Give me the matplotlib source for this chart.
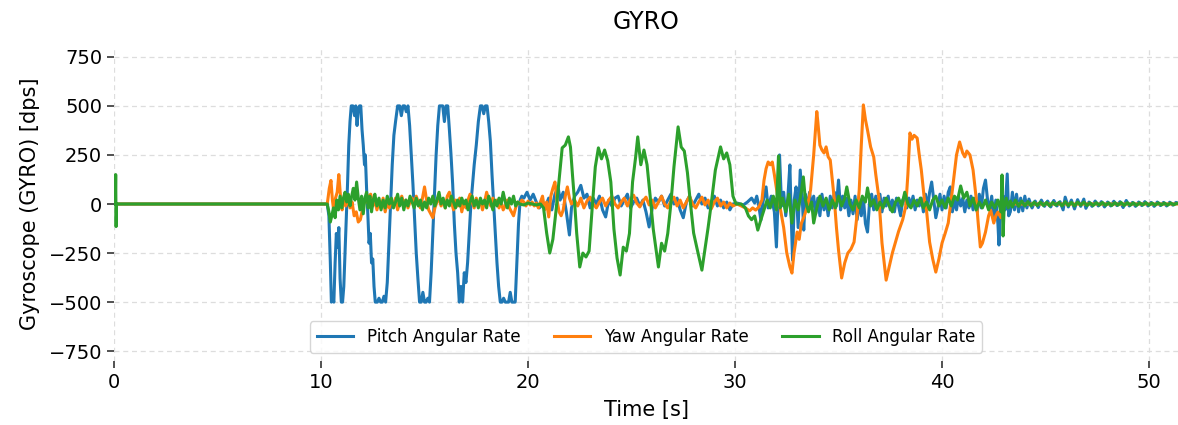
import numpy as np
import matplotlib
matplotlib.use("Agg")
import matplotlib.pyplot as plt

# ---------------- data (time [s], rate [dps]) ----------------
pitch_points = [
    (0.0, 0), (10.30, 0), (10.38, -60), (10.45, -300), (10.50, -500), (10.56, -480), (10.62, -500),
    (10.68, -300), (10.74, -150), (10.80, -220), (10.86, -120), (10.92, -380), (10.98, -500),
    (11.04, -500), (11.10, -420), (11.16, -250), (11.22, -80), (11.28, 100), (11.34, 300),
    (11.40, 420), (11.46, 500), (11.54, 500), (11.62, 450), (11.68, 500), (11.74, 400),
    (11.80, 480), (11.86, 500), (11.92, 500), (11.98, 380), (12.04, 300), (12.10, 200), (12.14, 250),
    (12.20, 80), (12.26, -50), (12.32, -200), (12.38, -150), (12.44, -300), (12.50, -280),
    (12.56, -420), (12.62, -500), (12.72, -500), (12.80, -480), (12.88, -500), (12.96, -500),
    (13.04, -470), (13.12, -500), (13.20, -400), (13.28, -200), (13.36, 0), (13.44, 200),
    (13.52, 350), (13.60, 420), (13.70, 500), (13.80, 500), (13.88, 450), (13.96, 500),
    (14.04, 500), (14.12, 470), (14.20, 500), (14.28, 400), (14.36, 250), (14.44, 100),
    (14.52, -80), (14.60, -250), (14.68, -380), (14.76, -500), (14.84, -500), (14.92, -450),
    (15.00, -500), (15.08, -500), (15.16, -480), (15.24, -500), (15.32, -350), (15.40, -150),
    (15.48, 50), (15.56, 250), (15.64, 400), (15.72, 500), (15.80, 500), (15.88, 500),
    (15.96, 420), (16.04, 500), (16.12, 500), (16.20, 380), (16.28, 250), (16.36, 100),
    (16.44, -100), (16.52, -250), (16.60, -350), (16.68, -500), (16.76, -420), (16.84, -500),
    (16.92, -350), (17.00, -400), (17.08, -300), (17.16, -150), (17.24, 0), (17.32, 100),
    (17.40, 200), (17.50, 300), (17.60, 420), (17.70, 500), (17.78, 500), (17.86, 460),
    (17.94, 500), (18.02, 500), (18.10, 420), (18.18, 320), (18.26, 150), (18.34, 0),
    (18.42, -150), (18.50, -300), (18.58, -420), (18.66, -500), (18.74, -500), (18.82, -480),
    (18.90, -500), (18.98, -500), (19.06, -500), (19.14, -450), (19.22, -500), (19.30, -500),
    (19.38, -500), (19.46, -300), (19.54, -100), (19.62, 20), (19.70, 40),
    (19.80, 30), (19.95, 60), (20.10, 20), (20.25, 50), (20.40, 10), (20.55, -20), (20.70, 10),
    (20.85, -10), (21.00, 30), (21.15, -30), (21.30, 50), (21.45, 87), (21.55, 20), (21.70, 60),
    (21.85, -40), (22.00, -158), (22.10, -20), (22.25, 40), (22.40, 60), (22.55, 95), (22.70, 30),
    (22.85, 50), (23.00, -20), (23.15, 30), (23.30, 0), (23.45, 40), (23.60, -30), (23.75, -66),
    (23.90, 20), (24.05, -10), (24.20, 30), (24.35, 40), (24.50, -10), (24.65, 20), (24.80, 50),
    (24.95, -20), (25.10, 10), (25.25, 30), (25.40, -10), (25.55, 20), (25.70, -40), (25.85, -117),
    (26.00, -20), (26.15, 30), (26.30, 10), (26.45, 40), (26.60, -10), (26.75, 20), (26.90, 50),
    (27.05, 0), (27.20, 30), (27.35, -30), (27.50, -70), (27.65, 10), (27.80, 40), (27.95, -10),
    (28.10, 20), (28.25, 50), (28.40, 0), (28.55, 30), (28.70, -20), (28.85, 10), (29.00, 40),
    (29.15, -10), (29.30, 20), (29.45, -20), (29.60, 10), (29.75, -30), (29.90, 0),
    (30.10, 5), (30.40, -5), (30.60, 10), (30.80, 30), (30.95, 5), (31.05, 40), (31.15, -10),
    (31.25, -82), (31.35, 10), (31.50, 87), (31.60, -20), (31.75, 40), (31.90, -40), (32.00, -219),
    (32.08, 30), (32.15, 250), (32.25, -10), (32.35, 60), (32.45, -60), (32.55, 30), (32.65, 199),
    (32.72, -80), (32.78, -286), (32.86, 20), (32.95, 87), (33.05, -120), (33.15, 173), (33.25, 20),
    (33.32, -133), (33.40, 50), (33.50, -30), (33.60, 60), (33.70, -20), (33.80, 40), (33.90, -50),
    (34.00, 30), (34.10, -60), (34.20, 50), (34.30, -30), (34.40, 20), (34.50, -60), (34.60, 40),
    (34.70, -20), (34.80, 60), (34.90, -10), (35.00, 122), (35.10, -30), (35.20, 40), (35.30, -20),
    (35.40, 30), (35.50, -60), (35.60, 20), (35.70, -50), (35.80, 40), (35.90, -80), (36.00, 10),
    (36.10, -60), (36.20, 30), (36.30, -100), (36.40, -143), (36.50, 10), (36.60, 50), (36.70, -30),
    (36.80, 40), (36.90, -20), (37.00, 50), (37.10, -40), (37.20, 30), (37.30, -10), (37.40, 40),
    (37.50, -30), (37.60, 20), (37.70, -40), (37.80, 30), (37.90, -10), (38.00, -60), (38.10, 20),
    (38.20, 40), (38.30, -20), (38.40, 30), (38.50, -10), (38.60, 40), (38.70, -30), (38.80, 20),
    (38.90, -10), (39.00, 30), (39.10, -40), (39.20, 50), (39.30, -20), (39.40, 60), (39.50, 112),
    (39.60, 20), (39.70, -70), (39.80, -20), (39.90, 50), (40.00, -30), (40.10, 40), (40.20, -20),
    (40.30, 60), (40.40, 87), (40.50, -40), (40.60, 20), (40.70, -30), (40.80, 40), (40.90, -10),
    (41.00, 30), (41.10, -40), (41.20, 20), (41.30, -20), (41.40, 40), (41.50, -30), (41.60, 30),
    (41.70, -40), (41.80, 50), (41.90, -20), (42.00, 80), (42.10, 122), (42.20, 20), (42.30, -30),
    (42.40, 40), (42.50, -70), (42.60, 20), (42.70, -100), (42.75, -209), (42.85, 10), (42.95, 40),
    (43.05, -30), (43.15, 153), (43.22, -60), (43.30, -40), (43.40, 60), (43.50, -30), (43.60, 50),
    (43.70, -40), (43.80, 30), (43.90, -35), (44.00, 40), (44.10, -20), (44.20, 25), (44.35, -20),
    (44.50, 15), (44.65, -18), (44.80, 20), (44.95, -12), (45.10, 15), (45.25, -15), (45.40, 18),
    (45.55, -10), (45.70, 12), (45.85, -30), (45.95, 35), (46.10, -15), (46.25, 20), (46.40, -25),
    (46.55, 22), (46.70, -12), (46.85, 25), (46.95, -22), (47.10, 10), (47.25, -12), (47.40, 15),
    (47.55, -10), (47.70, 12), (47.85, -15), (48.00, 10), (48.15, -10), (48.30, 14), (48.45, -8),
    (48.60, 12), (48.75, -18), (48.90, 18), (49.05, -10), (49.20, 8), (49.35, -12), (49.50, 10),
    (49.65, -8), (49.80, 12), (49.95, -10), (50.10, 8), (50.25, -12), (50.40, 10), (50.55, -8),
    (50.70, 8), (50.85, -10), (51.00, 9), (51.15, -6), (51.30, 8), (51.50, 0),
]

yaw_points = [
    (0.0, 0), (10.30, 0), (10.40, 80), (10.48, 120), (10.55, 20), (10.62, -40), (10.70, 30),
    (10.78, 60), (10.86, 150), (10.94, 40), (11.02, -30), (11.10, 20), (11.20, -10), (11.30, 30),
    (11.40, -20), (11.50, 10), (11.60, -60), (11.70, -40), (11.80, -92), (11.90, -80), (12.00, -30),
    (12.10, 20), (12.20, 10), (12.30, 40), (12.40, 50), (12.50, -10), (12.60, 20), (12.70, -30),
    (12.80, 10), (12.90, -20), (13.00, 30), (13.10, -40), (13.20, 10), (13.30, -20), (13.40, 20),
    (13.50, -10), (13.60, 30), (13.70, -30), (13.80, 10), (13.90, 40), (14.00, 0), (14.10, 20),
    (14.20, -20), (14.30, 10), (14.40, 30), (14.50, 0), (14.60, 40), (14.70, 10), (14.80, -20),
    (14.90, 30), (15.00, 87), (15.10, 20), (15.20, -30), (15.30, -50), (15.40, -70), (15.50, -20),
    (15.60, 10), (15.70, 30), (15.80, -10), (15.90, 20), (16.00, -20), (16.10, 40), (16.20, 60),
    (16.30, 10), (16.40, -30), (16.50, 20), (16.60, -10), (16.70, 30), (16.80, -40), (16.90, 10),
    (17.00, -20), (17.10, 20), (17.20, 50), (17.30, 10), (17.40, -20), (17.50, 30), (17.60, -10),
    (17.70, 20), (17.80, -30), (17.90, 10), (18.00, 60), (18.10, 20), (18.20, -10), (18.30, 30),
    (18.40, 0), (18.50, 20), (18.60, -20), (18.70, 10), (18.80, -30), (18.90, -10), (19.00, 20),
    (19.10, -20), (19.20, -40), (19.30, -60), (19.40, -20), (19.50, 10), (19.60, 0), (19.70, 20),
    (19.80, 10), (19.90, -10), (20.00, 15), (20.10, -5), (20.20, 10), (20.30, -10), (20.40, 5),
    (20.50, -20), (20.60, 10), (20.70, 40), (20.80, -30), (20.90, 10), (21.00, -66), (21.10, 40),
    (21.20, 80), (21.30, 112), (21.40, 20), (21.50, -40), (21.60, -60), (21.70, -30), (21.80, 40),
    (21.90, 87), (22.00, 30), (22.10, 0), (22.25, 20), (22.40, -10), (22.55, 30), (22.70, -20),
    (22.85, 15), (23.00, 35), (23.15, 0), (23.30, -20), (23.45, 10), (23.60, 30), (23.75, -10),
    (23.90, 20), (24.05, 40), (24.20, 0), (24.35, -20), (24.50, 10), (24.65, 30), (24.80, -10),
    (24.95, 25), (25.10, 45), (25.25, 5), (25.40, -15), (25.55, 15), (25.70, 35), (25.85, -5),
    (26.00, 20), (26.15, -20), (26.30, 10), (26.45, 40), (26.60, 0), (26.75, -20), (26.90, 15),
    (27.05, 35), (27.20, -10), (27.35, 20), (27.50, -20), (27.65, 10), (27.80, 40), (27.95, 0),
    (28.10, -20), (28.25, 10), (28.40, 35), (28.55, -5), (28.70, 20), (28.85, -25), (29.00, 10),
    (29.15, 30), (29.30, -10), (29.45, 10), (29.60, -20), (29.75, 5), (29.90, -10), (30.10, 0),
    (30.30, -10), (30.50, -20), (30.70, -35), (30.85, -20), (31.00, -31), (31.15, -15), (31.30, 20),
    (31.40, 120), (31.50, 180), (31.60, 214), (31.70, 200), (31.80, 214), (31.90, 150), (32.00, 80),
    (32.10, 20), (32.20, -31), (32.35, -120), (32.50, -250), (32.65, -320), (32.75, -352),
    (32.85, -250), (33.00, -143), (33.10, -180), (33.20, -100), (33.35, -60), (33.50, -10),
    (33.65, 71), (33.80, 250), (33.90, 400), (33.95, 471), (34.00, 420), (34.10, 300), (34.20, 275),
    (34.30, 260), (34.40, 291), (34.50, 240), (34.60, 224), (34.70, 120), (34.80, 20), (34.90, -120),
    (35.00, -235), (35.15, -377), (35.30, -300), (35.45, -250), (35.60, -230), (35.75, -194),
    (35.90, -50), (36.00, 71), (36.10, 300), (36.20, 505), (36.30, 430), (36.40, 377), (36.55, 291),
    (36.70, 240), (36.80, 150), (36.95, 31), (37.10, -199), (37.30, -388), (37.45, -320),
    (37.60, -250), (37.75, -194), (37.90, -140), (38.10, -80), (38.25, -10), (38.35, 150),
    (38.45, 362), (38.55, 330), (38.65, 350), (38.80, 336), (38.90, 250), (39.00, 173), (39.15, 20),
    (39.25, -31), (39.40, -194), (39.55, -280), (39.70, -347), (39.85, -280), (40.00, -199),
    (40.15, -150), (40.30, -97), (40.50, 71), (40.70, 250), (40.85, 316), (41.00, 260), (41.10, 240),
    (41.20, 270), (41.35, 250), (41.50, 173), (41.65, 30), (41.75, -100), (41.85, -219),
    (41.95, -200), (42.10, -143), (42.25, -60), (42.35, -31), (42.50, -97), (42.60, -60),
    (42.70, -41), (42.85, -70), (42.95, -10), (43.10, 5), (43.50, 0), (51.50, 0),
]

roll_points = [
    (0.0, 0), (0.06, 0), (0.08, 150), (0.10, -115), (0.12, 0), (10.30, 0), (10.38, -40),
    (10.45, -92), (10.52, -60), (10.60, -20), (10.68, -70), (10.76, 20), (10.84, -30), (10.92, 40),
    (11.00, -20), (11.08, 30), (11.16, 60), (11.24, 10), (11.32, 50), (11.40, -10), (11.48, 40),
    (11.56, 80), (11.64, 20), (11.72, 112), (11.80, 30), (11.88, -30), (11.96, 40), (12.04, -50),
    (12.12, 30), (12.20, 60), (12.28, -20), (12.36, 40), (12.44, -40), (12.52, 20), (12.60, 50),
    (12.70, -10), (12.80, 30), (12.90, -30), (13.00, 20), (13.10, -20), (13.20, 40), (13.30, 0),
    (13.40, 30), (13.50, -20), (13.60, 10), (13.70, 50), (13.80, -10), (13.90, 30), (14.00, -30),
    (14.10, 20), (14.20, -10), (14.30, 40), (14.40, 10), (14.50, -20), (14.60, 30), (14.70, -10),
    (14.80, 20), (14.90, -30), (15.00, 10), (15.10, -20), (15.20, 30), (15.30, 0), (15.40, 40),
    (15.50, -10), (15.60, 20), (15.70, 60), (15.80, 0), (15.90, 30), (16.00, -20), (16.10, 20),
    (16.20, -10), (16.30, 40), (16.40, 10), (16.50, -20), (16.60, 20), (16.70, -10), (16.80, 30),
    (16.90, 0), (17.00, 20), (17.10, -30), (17.20, 10), (17.30, 40), (17.40, -10), (17.50, 20),
    (17.60, -20), (17.70, 30), (17.80, 0), (17.90, 20), (18.00, -20), (18.10, 40), (18.20, 10),
    (18.30, -30), (18.40, 20), (18.50, -10), (18.60, 30), (18.70, 0), (18.80, 60), (18.90, 10),
    (19.00, -20), (19.10, 30), (19.20, 0), (19.30, 40), (19.40, -10), (19.50, 10), (19.60, 0),
    (19.80, -5), (20.00, 5), (20.20, 0), (20.40, -5), (20.60, 0),
    (20.75, -20), (20.90, -148), (21.05, -250), (21.20, -180), (21.35, -36), (21.50, 122),
    (21.65, 286), (21.80, 300), (21.95, 342), (22.05, 290), (22.15, 145), (22.25, 10), (22.35, -148),
    (22.50, -321), (22.65, -250), (22.80, -270), (22.95, -240), (23.10, -20), (23.25, 189),
    (23.40, 286), (23.55, 230), (23.70, 275), (23.85, 220), (24.00, 112), (24.15, -128),
    (24.30, -275), (24.45, -362), (24.60, -220), (24.75, -240), (24.90, -150), (25.05, 112),
    (25.20, 240), (25.30, 342), (25.45, 200), (25.60, 275), (25.75, 200), (25.90, 40), (26.05, -128),
    (26.30, -321), (26.45, -200), (26.60, -240), (26.75, -150), (26.90, 0), (27.05, 189),
    (27.25, 393), (27.40, 290), (27.55, 270), (27.70, 160), (27.85, 0), (28.00, -148), (28.15, -220),
    (28.40, -337), (28.55, -230), (28.70, -120), (28.85, 0), (29.05, 173), (29.30, 291),
    (29.45, 230), (29.60, 260), (29.75, 200), (29.90, 40), (30.05, 0), (30.30, 0), (30.50, -20),
    (30.65, -61), (30.80, -80), (30.95, -61), (31.10, -133), (31.25, -80),
    (31.40, -30), (31.55, 20), (31.70, -20), (31.85, 40), (32.00, -30), (32.10, 245), (32.18, -20),
    (32.30, 30), (32.45, -40), (32.60, 50), (32.75, -97), (32.90, 20), (33.05, -30), (33.20, 60),
    (33.30, 138), (33.40, 20), (33.55, -40), (33.70, 10), (33.80, -97), (33.95, -20), (34.10, 40),
    (34.25, -10), (34.40, 30), (34.55, -30), (34.70, 20), (34.85, -20), (35.00, 40), (35.15, -10),
    (35.30, 30), (35.40, 87), (35.55, 0), (35.70, -30), (35.85, 20), (36.00, -20), (36.15, 40),
    (36.30, 10), (36.40, 82), (36.55, -10), (36.70, 20), (36.85, -30), (37.00, 10), (37.15, -20),
    (37.30, 30), (37.45, -10), (37.60, -40), (37.75, 10), (37.90, 30), (38.05, -10), (38.20, 60),
    (38.35, 0), (38.50, -20), (38.65, 20), (38.80, -10), (38.95, 30), (39.10, -20), (39.25, 10),
    (39.40, -30), (39.55, 20), (39.70, 40), (39.85, -10), (40.00, 20), (40.15, -20), (40.30, 30),
    (40.45, -10), (40.60, 40), (40.75, 20), (40.90, 92), (41.05, 30), (41.20, 60), (41.35, -10),
    (41.50, 30), (41.65, -30), (41.80, 10), (41.95, -20), (42.10, 20), (42.25, -30), (42.40, 10),
    (42.55, -20), (42.70, 20), (42.85, -40), (42.90, 148), (42.95, -163), (43.00, -20), (43.10, 30),
    (43.20, -20), (43.30, 15), (43.40, -15), (43.55, 20), (43.70, -12), (43.85, 15), (44.00, -10),
    (44.15, 12), (44.30, -10), (44.45, 10), (44.60, -8), (44.75, 10), (44.90, -8), (45.05, 8),
    (45.20, -10), (45.35, 8), (45.50, -6), (45.65, 8), (45.80, -10), (45.95, 12), (46.10, -8),
    (46.25, 8), (46.40, -10), (46.55, 10), (46.70, -6), (46.85, 10), (47.00, -8), (47.15, 6),
    (47.30, -8), (47.45, 7), (47.60, -6), (47.75, 8), (47.90, -7), (48.05, 6), (48.20, -8),
    (48.35, 7), (48.50, -6), (48.65, 8), (48.80, -8), (48.95, 7), (49.10, -6), (49.25, 6),
    (49.40, -7), (49.55, 6), (49.70, -5), (49.85, 7), (50.00, -6), (50.15, 5), (50.30, -6),
    (50.45, 6), (50.60, -5), (50.75, 5), (50.90, -6), (51.05, 5), (51.20, -4), (51.35, 4), (51.50, 0),
]

series_labels = ["Pitch Angular Rate", "Yaw Angular Rate", "Roll Angular Rate"]
series_colors = ["#1f77b4", "#ff7f0e", "#2ca02c"]
x_ticks = [0, 10, 20, 30, 40, 50]
y_ticks = [-750, -500, -250, 0, 250, 500, 750]

# ---------------- figure ----------------
fig = plt.figure(figsize=(11.78, 4.25), dpi=100)
ax = fig.add_axes([0.0968, 0.1506, 0.9032, 0.7388])

for pts, lab, col in zip([pitch_points, yaw_points, roll_points], series_labels, series_colors):
    arr = np.array(pts, dtype=float)
    ax.plot(arr[:, 0], arr[:, 1], color=col, lw=2.2, label=lab)

ax.set_xlim(0, 51.4)
ax.set_ylim(-800, 800)
ax.set_xticks(x_ticks)
ax.set_yticks(y_ticks)
ax.set_yticklabels([f"{v}".replace("-", "\u2212") for v in y_ticks])
ax.tick_params(axis="both", labelsize=14, length=5, width=1.2, color="#333333", direction="out")
ax.grid(True, linestyle=(0, (4, 3)), color="#dddddd", linewidth=0.9)
ax.set_axisbelow(True)
for s in ax.spines.values():
    s.set_visible(False)

ax.set_title("GYRO", fontsize=17, pad=13)
ax.set_xlabel("Time [s]", fontsize=15, labelpad=6)
ax.set_ylabel("Gyroscope (GYRO) [dps]", fontsize=15, labelpad=6)

leg = ax.legend(loc="lower center", ncol=3, fontsize=12, frameon=True,
                borderaxespad=0.5, columnspacing=2.0, handlelength=2.2)
leg.get_frame().set_edgecolor("#cccccc")

fig.savefig("out.png", dpi=100)
